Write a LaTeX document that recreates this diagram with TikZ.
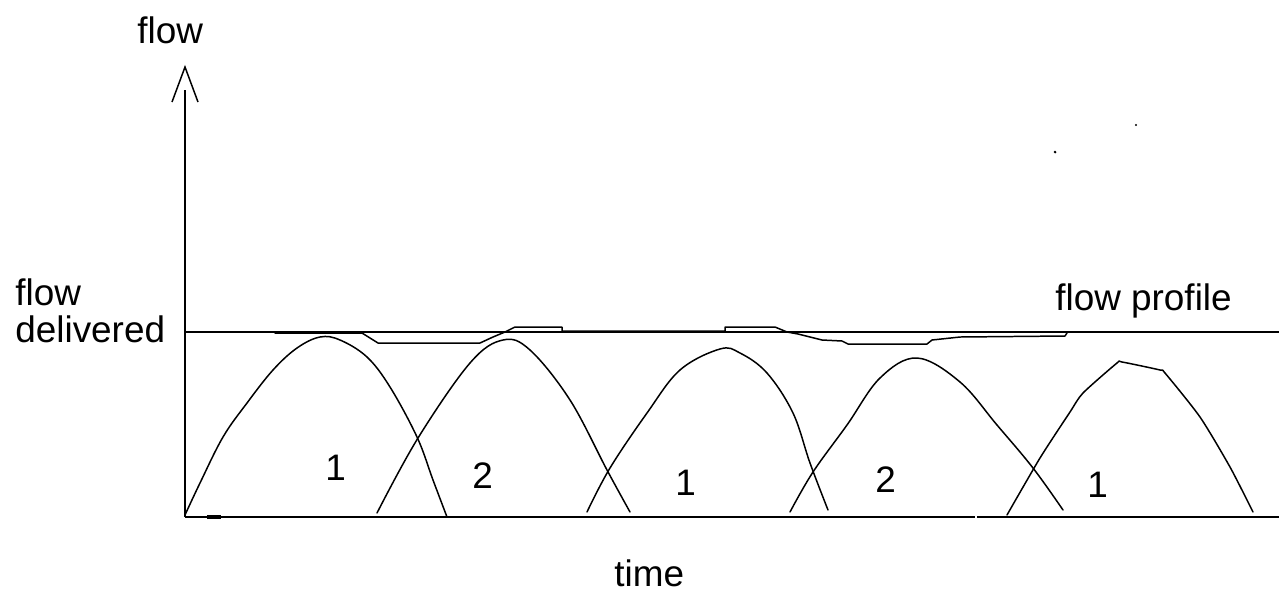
\documentclass[tikz,border=0pt]{standalone}
\usepackage{fontspec}
\setmainfont{Liberation Sans}
\begin{document}
\begin{tikzpicture}[x=0.02cm,y=-0.02cm,
  asse/.style={draw=black,line width=0.85pt},
  curva/.style={draw=black,line width=0.85pt,line join=round,line cap=round},
  etichetta/.style={font=\fontsize{21}{25}\selectfont,inner sep=0pt,anchor=base west}]
  \useasboundingbox (0,0) rectangle (1279,593);
  % Assi: origine in basso a sinistra, freccia aperta in cima.
  \coordinate (origine) at (185,517);
  \coordinate (cimaAsse) at (185,90);
  \coordinate (fineAsse) at (1279,517);
  \coordinate (punta) at (185,67);
  \draw[asse] (origine) -- (cimaAsse);
  \draw[asse] (172,102) -- (punta) -- (198,102);
  \draw[asse] (origine) -- (975,517);
  \draw[asse] (977,517) -- (fineAsse);
  \draw[asse,line width=2pt] (207,517) -- (221,517);
  % Livello di flusso richiesto.
  \coordinate (livello) at (185,332);
  \coordinate (fineLivello) at (1279,332);
  \draw[asse] (livello) -- (fineLivello);
  % Profilo effettivo, quasi sovrapposto al livello.
  \draw[curva] (275,333) -- (362,333) -- (370,338) -- (378,343) -- (480,343)
    -- (493,337) -- (505,332) -- (515,327) -- (562,327) -- (562,331)
    -- (725,331) -- (725,327) -- (775,327) -- (787,332) -- (798,334)
    -- (810,337) -- (822,340) -- (842,341) -- (848,344) -- (927,344)
    -- (932,340) -- (960,337) -- (1065,336) -- (1067,333);
  % Cinque erogazioni alternate delle due pompe.
  \draw[curva] plot[smooth,tension=0.6] coordinates {(185,515) (200,483) (223,437)
    (247,403) (273,370) (297,348) (320,337) (340,340) (367,357) (390,387)
    (417,437) (433,480) (447,517)};
  \draw[curva] plot[smooth,tension=0.6] coordinates {(377,513) (418,438) (470,363)
    (503,340) (530,350) (570,400) (607,470) (630,512)};
  \draw[curva] plot[smooth,tension=0.6] coordinates {(587,512) (610,468) (647,413)
    (680,370) (720,349) (740,353) (767,373) (793,413) (810,463) (828,510)};
  \draw[curva] plot[smooth,tension=0.6] coordinates {(790,512) (813,472) (847,425)
    (880,378) (917,358) (960,382) (997,425) (1033,468) (1063,510)};
  \draw[curva] plot[smooth,tension=0.4] coordinates {(1007,515) (1040,458) (1070,412)
    (1083,393) (1117,363) (1122,362) (1160,370) (1165,373) (1200,417)
    (1230,467) (1253,512)};
  % Puntini sparsi in alto a destra.
  \fill (1055,152) circle (1.5);
  \fill (1136,125) circle (1.2);
  % Testi.
  \node[etichetta] (titoloFlusso) at (137,43) {flow};
  \node[etichetta] (flusso) at (15,305) {flow};
  \node[etichetta] (erogato) at (15,342) {delivered};
  \node[etichetta] (profilo) at (1055,310) {flow profile};
  \node[etichetta] (tempo) at (614,586) {time};
  \foreach \x/\y/\pompa [count=\i] in {325/480/1,472/488/2,675/495/1,875/492/2,1087/497/1}
    \node[etichetta] (pompa\i) at (\x,\y) {\pompa};
\end{tikzpicture}
\end{document}
